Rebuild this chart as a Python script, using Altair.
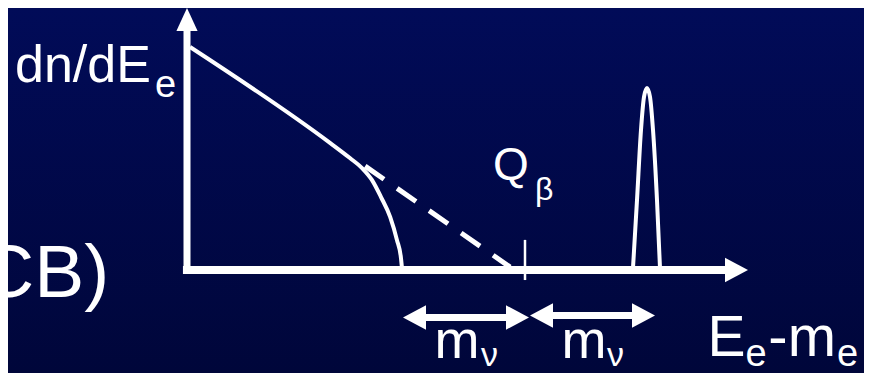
import altair as alt
import pandas as pd

# ---------------- data (schematic units: energy with Q_beta = 100, rate with dn/dE(0) = 100)
Q_BETA = 100.0

# beta spectrum with finite neutrino mass (solid)
spec_E = [0.9, 42.3, 48.2, 51.8, 54.7, 57.4, 60.1, 62.1, 63.3, 63.6]
spec_R = [100.0, 57.0, 50.2, 45.7, 40.4, 32.7, 23.8, 13.5, 5.4, 0.9]

# massless-neutrino continuation (dashed)
dash_E = [52.7, 95.6]
dash_R = [46.6, 1.3]

# mono-energetic peak
peak_E = [131.95, 133.14, 134.32, 135.21, 136.09, 136.98, 137.87, 139.05, 139.94]
peak_R = [0.9, 31.4, 62.8, 77.6, 81.6, 77.6, 62.8, 31.4, 0.9]

# axes (lines) and arrow heads
yaxis_E, yaxis_R0, yaxis_R1 = [0.0], [-1.8], [108.0]
xaxis_R, xaxis_E0, xaxis_E1 = [0.0], [-1.2], [160.0]
head_E = [0.0, 162.57, 67.31, 97.78, 104.88, 135.06]
head_R = [112.33, 0.0, -21.3, -21.3, -20.4, -20.4]
head_dir = ["up", "right", "left", "right", "left", "right"]

# m_nu double arrows (shafts)
marrow_E0 = [68.9, 106.8]
marrow_E1 = [96.2, 132.8]
marrow_R = [-21.3, -20.4]

# Q_beta tick
tick_E, tick_R0, tick_R1 = [Q_BETA], [-4.5], [13.5]

# labels
ylab_text, ylab_E, ylab_R = ["dn/dE"], [-50.89], [84.30]
ysub_text, ysub_E, ysub_R = ["e"], [-9.47], [77.58]
q_text, q_E, q_R = ["Q"], [90.53], [40.36]
qsub_text, qsub_E, qsub_R = ["β"], [102.96], [31.39]
m_text, m_E, m_R = ["m", "m"], [73.22, 110.80], [-39.5, -39.5]
msub_text, msub_E, msub_R = ["ν", "ν"], [86.98, 124.26], [-43.2, -43.2]
xE_text, xE_E, xE_R = ["E"], [154.0], [-38.6]
xm_text, xm_E, xm_R = ["-m"], [172.0], [-38.6]
xsub_text, xsub_E, xsub_R = ["e", "e"], [165.2, 192.3], [-43.2, -43.2]
side_text, side_E, side_R = ["CB)"], [-61.24], [-12.11]

# ---------------- layout (page has an 8px margin on every side)
W, H = 856, 365
ORIGIN_X, ORIGIN_Y = 179.0, 262.0   # chart px of (E=0, R=0)
KX, KY = 3.38, 2.23                 # px per unit
X_MIN, X_MAX = -ORIGIN_X / KX, (W - ORIGIN_X) / KX
Y_MIN, Y_MAX = (ORIGIN_Y - H) / KY, ORIGIN_Y / KY

XS = alt.Scale(domain=[X_MIN, X_MAX], nice=False, zero=False)
YS = alt.Scale(domain=[Y_MIN, Y_MAX], nice=False, zero=False)
FONT = "Liberation Sans"
WHITE = "white"


def X(f):
    return alt.X(f"{f}:Q", scale=XS, axis=None)


def Y(f):
    return alt.Y(f"{f}:Q", scale=YS, axis=None)


bg = alt.Chart(pd.DataFrame({"E": [X_MIN], "E2": [X_MAX], "R": [Y_MIN], "R2": [Y_MAX]})).mark_rect(
    color=alt.Gradient(
        gradient="linear",
        stops=[alt.GradientStop(color="#010b58", offset=0),
               alt.GradientStop(color="#00063a", offset=1)],
        x1=0, x2=0, y1=0, y2=1,
    )
).encode(x=X("E"), x2="E2", y=Y("R"), y2="R2")

yaxis = alt.Chart(pd.DataFrame({"E": yaxis_E, "R0": yaxis_R0, "R1": yaxis_R1})).mark_rule(
    color=WHITE, strokeWidth=7
).encode(x=X("E"), y=Y("R0"), y2="R1")

xaxis = alt.Chart(pd.DataFrame({"R": xaxis_R, "E0": xaxis_E0, "E1": xaxis_E1})).mark_rule(
    color=WHITE, strokeWidth=8
).encode(y=Y("R"), x=X("E0"), x2="E1")

shafts = alt.Chart(pd.DataFrame({"E0": marrow_E0, "E1": marrow_E1, "R": marrow_R})).mark_rule(
    color=WHITE, strokeWidth=7
).encode(y=Y("R"), x=X("E0"), x2="E1")

tick = alt.Chart(pd.DataFrame({"E": tick_E, "R0": tick_R0, "R1": tick_R1})).mark_rule(
    color=WHITE, strokeWidth=2.5
).encode(x=X("E"), y=Y("R0"), y2="R1")

heads = alt.Chart(pd.DataFrame({"E": head_E, "R": head_R, "dir": head_dir})).mark_point(
    filled=True, opacity=1, color=WHITE, size=529, strokeWidth=0
).encode(
    x=X("E"), y=Y("R"),
    shape=alt.Shape("dir:N", legend=None, scale=alt.Scale(
        domain=["up", "right", "left"],
        range=["M0,-1L0.92,1L-0.92,1Z", "M1,0L-1,-1.06L-1,1.06Z", "M-1,0L1,-1.06L1,1.06Z"])),
)

spectrum = alt.Chart(pd.DataFrame({"E": spec_E, "R": spec_R})).mark_line(
    color=WHITE, strokeWidth=4, interpolate="monotone"
).encode(x=X("E"), y=Y("R"))

dashed = alt.Chart(pd.DataFrame({"E": dash_E, "R": dash_R})).mark_line(
    color=WHITE, strokeWidth=5, strokeDash=[23, 16]
).encode(x=X("E"), y=Y("R"))

peak = alt.Chart(pd.DataFrame({"E": peak_E, "R": peak_R})).mark_line(
    color=WHITE, strokeWidth=4, interpolate="monotone"
).encode(x=X("E"), y=Y("R"))


def text_layer(texts, es, rs, size):
    return alt.Chart(pd.DataFrame({"t": texts, "E": es, "R": rs})).mark_text(
        align="left", baseline="alphabetic", font=FONT, fontSize=size, color=WHITE
    ).encode(x=X("E"), y=Y("R"), text="t:N")


labels = [
    text_layer(ylab_text, ylab_E, ylab_R, 52),
    text_layer(ysub_text, ysub_E, ysub_R, 38),
    text_layer(q_text, q_E, q_R, 46),
    text_layer(qsub_text, qsub_E, qsub_R, 32),
    text_layer(m_text, m_E, m_R, 54),
    text_layer(msub_text, msub_E, msub_R, 34),
    text_layer(xE_text, xE_E, xE_R, 57),
    text_layer(xm_text, xm_E, xm_R, 58),
    text_layer(xsub_text, xsub_E, xsub_R, 38),
    text_layer(side_text, side_E, side_R, 75),
]

chart = alt.layer(
    bg, yaxis, xaxis, shafts, tick, heads, spectrum, dashed, peak, *labels
).properties(
    width=W, height=H,
    autosize=alt.AutoSizeParams(type="none"),
    padding=0,
    background="#00063a",
).configure_view(stroke=None)

chart.save("out.html", embed_options={"renderer": "svg", "actions": False})
